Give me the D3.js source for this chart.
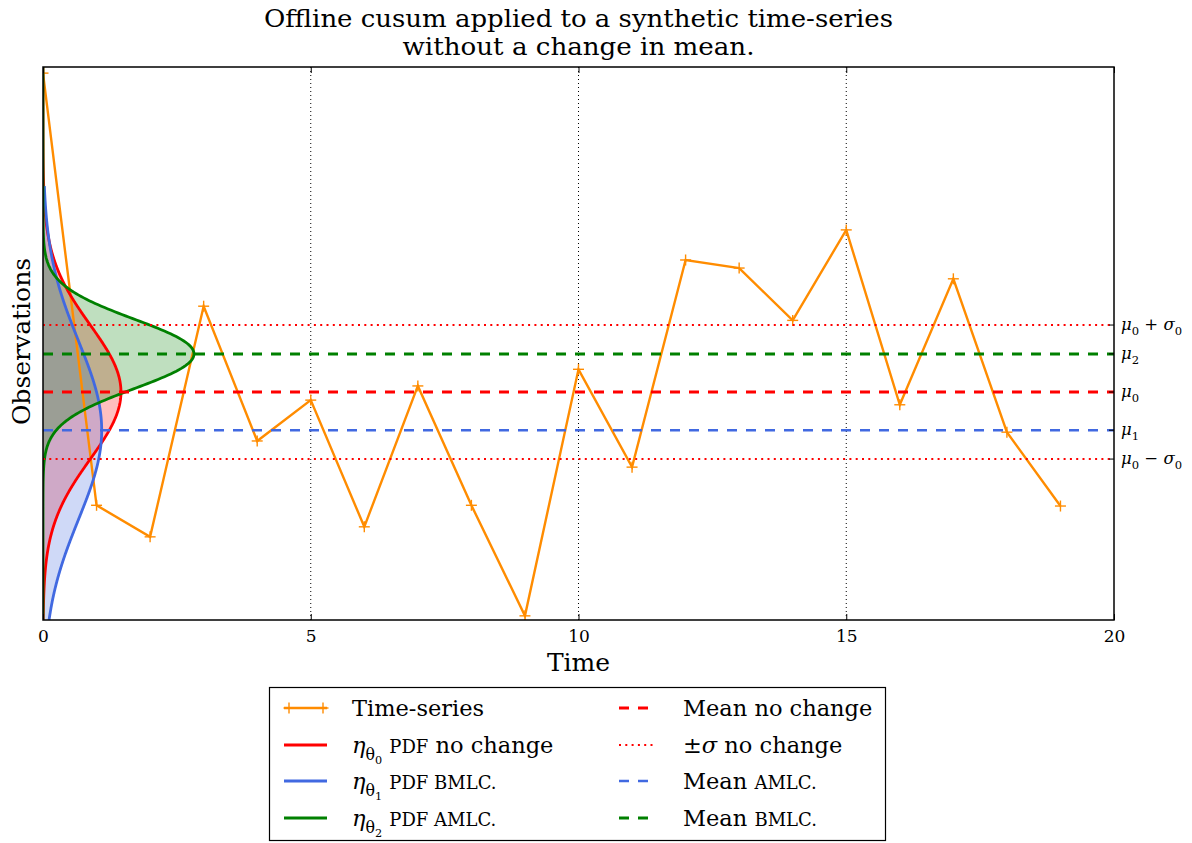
<!DOCTYPE html>
<html><head><meta charset="utf-8">
<script src="https://cdn.jsdelivr.net/npm/d3@7"></script>
<style>
body{margin:0;background:#fff}
svg{display:block}
text{font-family:"DejaVu Serif","Liberation Serif",serif;fill:#000}
.title{font-family:"DejaVu Serif Condensed","DejaVu Serif",serif;font-stretch:condensed}
</style>
</head><body>
<svg id="chart" width="1192" height="843"></svg>
<script>
// ---------------- data ----------------
const timeSteps = [0,1,2,3,4,5,6,7,8,9,10,11,12,13,14,15,16,17,18,19];
const observations = [1.304,-0.463,-0.592,0.351,-0.200,-0.033,-0.551,0.025,-0.463,-0.915,
                      0.093,-0.307,0.540,0.507,0.293,0.663,-0.052,0.463,-0.164,-0.466];
const mu0 = 0.0, sigma0 = 0.274;
const mu1 = -0.156, sigma1 = 0.364;
const mu2 = 0.156, sigma2 = 0.1415;
const pdfMeans  = [mu0, mu1, mu2];
const pdfSigmas = [sigma0, sigma1, sigma2];
const pdfTop    = [1.329, 0.842, 1.329];      // upper end of evaluated range
const pdfColors = ["#ff0000", "#4169e1", "#008000"];
const xTicks = [0, 5, 10, 15, 20];
const xGrid = [5, 10, 15];
const yDomain = [-0.932, 1.329];
const xDomain = [0, 20];

// ---------------- layout ----------------
const L = 43, R = 1114, T = 67, B = 620;
const svg = d3.select("#chart");
const x = d3.scaleLinear().domain(xDomain).range([L, R]);
const y = d3.scaleLinear().domain(yDomain).range([B, T]);

svg.append("defs").append("clipPath").attr("id","clip")
  .append("rect").attr("x",L).attr("y",T).attr("width",R-L).attr("height",B-T);
const plot = svg.append("g").attr("clip-path","url(#clip)");

// grid (vertical dotted)
plot.selectAll(".grid").data(xGrid).enter().append("line")
  .attr("x1",d=>x(d)).attr("x2",d=>x(d)).attr("y1",T).attr("y2",B)
  .attr("stroke","#000").attr("stroke-width",1).attr("stroke-dasharray","1,3");

const plus = (g, cx, cy, s) => {
  g.append("line").attr("x1",cx-s).attr("x2",cx+s).attr("y1",cy).attr("y2",cy);
  g.append("line").attr("x1",cx).attr("x2",cx).attr("y1",cy-s).attr("y2",cy+s);
};

// PDFs (fills)
const normal = (v, m, s) => Math.exp(-0.5*((v-m)/s)**2)/(s*Math.sqrt(2*Math.PI));
const pdfPts = pdfMeans.map((m,k)=>{
  const s = pdfSigmas[k], lo = yDomain[0], hi = pdfTop[k], n = 400;
  return d3.range(n+1).map(i=>{const v = lo+(hi-lo)*i/n; return [v, normal(v,m,s)];});
});
pdfPts.forEach((pts,k)=>{
  const area = d3.area().y(d=>y(d[0])).x0(x(0)).x1(d=>x(d[1]));
  plot.append("path").datum(pts).attr("d",area)
    .attr("fill",pdfColors[k]).attr("fill-opacity",0.25).attr("stroke","none");
});

// time-series
const tsLine = d3.line().x((d,i)=>x(timeSteps[i])).y(d=>y(d));
plot.append("path").datum(observations).attr("d",tsLine)
  .attr("fill","none").attr("stroke","#ff8c00").attr("stroke-width",2.4);
const mk = plot.append("g").attr("stroke","#ff8c00").attr("stroke-width",1.4);
observations.forEach((v,i)=>plus(mk, x(timeSteps[i]), y(v), 5.5));

// PDF lines
pdfPts.forEach((pts,k)=>{
  plot.append("path").datum(pts).attr("d",d3.line().y(d=>y(d[0])).x(d=>x(d[1])))
    .attr("fill","none").attr("stroke",pdfColors[k]).attr("stroke-width",2.8);
});

// reference lines
const hl = (v, color, w, dash) => plot.append("line")
  .attr("x1",L).attr("x2",R).attr("y1",y(v)).attr("y2",y(v))
  .attr("stroke",color).attr("stroke-width",w).attr("stroke-dasharray",dash);
hl(mu0+sigma0, "#ff0000", 2, "2,4.3");
hl(mu0-sigma0, "#ff0000", 2, "2,4.3");
hl(mu1, "#4169e1", 2.4, "10,9");
hl(mu0, "#ff0000", 3, "10,9");
hl(mu2, "#008000", 3, "10,9");

// frame
svg.append("rect").attr("x",L).attr("y",T).attr("width",R-L).attr("height",B-T)
  .attr("fill","none").attr("stroke","#000").attr("stroke-width",1.5);

// x axis ticks + labels
const xAxis = d3.axisBottom(x).tickValues(xTicks).tickSize(-6).tickPadding(10).tickFormat(d3.format("d"));
const gx = svg.append("g").attr("transform",`translate(0,${B})`).call(xAxis);
gx.select(".domain").remove();
gx.selectAll("line").attr("stroke","#000").attr("stroke-width",1);
gx.selectAll("text").attr("font-family","DejaVu Serif").attr("font-size",17).attr("fill","#000");
const xTop = d3.axisTop(x).tickValues(xTicks).tickSize(-6).tickFormat("");
const gxt = svg.append("g").attr("transform",`translate(0,${T})`).call(xTop);
gxt.select(".domain").remove();
gxt.selectAll("line").attr("stroke","#000");

// right-hand labels
const refLevels = [mu0+sigma0, mu2, mu0, mu1, mu0-sigma0];
const refLabels = [
  [["μ","i"],["0","s"],[" + ","n"],["σ","i"],["0","s"]],
  [["μ","i"],["2","s"]],
  [["μ","i"],["0","s"]],
  [["μ","i"],["1","s"]],
  [["μ","i"],["0","s"],[" − ","n"],["σ","i"],["0","s"]]
];
function rich(t, parts, size){
  let shift = 0;
  parts.forEach(([s, kind])=>{
    const ts = t.append("tspan").text(s);
    if(kind==="i"){ ts.attr("font-style","italic").attr("font-size",size).attr("dy",-shift); shift=0; }
    else if(kind==="n"){ ts.attr("font-size",size).attr("dy",-shift); shift=0; }
    else if(kind==="s"){ const d = size*0.3 - shift; ts.attr("font-size",size*0.7).attr("dy",d); shift = size*0.3; }
    else if(kind==="ss"){ const d = size*0.5 - shift; ts.attr("font-size",size*0.5).attr("dy",d); shift = size*0.5; }
    else if(kind==="sc"){ ts.attr("font-size",size*0.8).attr("dy",-shift); shift=0; }
  });
}
refLevels.forEach((v,i)=>{
  svg.append("line").attr("x1",R-5).attr("x2",R).attr("y1",y(v)).attr("y2",y(v))
    .attr("stroke","#000").attr("stroke-width",1);
  const t = svg.append("text").attr("x",R+7).attr("y",y(v)+5).style("white-space","pre");
  rich(t, refLabels[i], 16.5);
});

// axis titles
svg.append("text").attr("x",(L+R)/2).attr("y",671).attr("text-anchor","middle")
  .attr("font-size",25).text("Time");
svg.append("text").attr("transform",`translate(30,${(T+B)/2-2}) rotate(-90)`)
  .attr("text-anchor","middle").attr("font-size",25).text("Observations");

// title
const titleLines = ["Offline cusum applied to a synthetic time-series", "without a change in mean."];
const titleWidths = [629, 352];
titleLines.forEach((s,i)=>{
  svg.append("text").attr("class","title").attr("x",(L+R)/2).attr("y",27+i*28).attr("text-anchor","middle")
    .attr("font-size",24).attr("textLength",titleWidths[i]).attr("lengthAdjust","spacingAndGlyphs").text(s);
});

// legend
const legendLabels = [
  [["Time-series","n"]],
  [["η","i"],["θ","s"],["0","ss"],[" ","n"],["PDF","sc"],[" no change","n"]],
  [["η","i"],["θ","s"],["1","ss"],[" ","n"],["PDF BMLC.","sc"]],
  [["η","i"],["θ","s"],["2","ss"],[" ","n"],["PDF AMLC.","sc"]],
  [["Mean no change","n"]],
  [["±","n"],["σ","i"],[" no change","n"]],
  [["Mean ","n"],["AMLC.","sc"]],
  [["Mean ","n"],["BMLC.","sc"]]
];
const legendStyles = [
  {c:"#ff8c00", w:2.4, dash:null, marker:true},
  {c:"#ff0000", w:3, dash:null},
  {c:"#4169e1", w:3, dash:null},
  {c:"#008000", w:3, dash:null},
  {c:"#ff0000", w:3, dash:"10,9"},
  {c:"#ff0000", w:2, dash:"2,4.3"},
  {c:"#4169e1", w:2.4, dash:"10,9"},
  {c:"#008000", w:3, dash:"10,9"}
];
const lg = svg.append("g");
lg.append("rect").attr("x",269.5).attr("y",687.5).attr("width",616).attr("height",153)
  .attr("fill","#fff").attr("stroke","#000").attr("stroke-width",1.2);
const rowY = [708, 745, 781, 818];
legendLabels.forEach((lab,i)=>{
  const col = Math.floor(i/4), row = i%4;
  const st = legendStyles[i];
  const yy = rowY[row];
  const x0 = col===0 ? 284 : 619, x1 = col===0 ? 327 : 653;
  const tx = col===0 ? 352 : 683;
  const ln = lg.append("line").attr("x1",x0).attr("x2",x1).attr("y1",yy).attr("y2",yy)
    .attr("stroke",st.c).attr("stroke-width",st.w);
  if(st.dash) ln.attr("stroke-dasharray",st.dash);
  if(st.marker){
    const mg = lg.append("g").attr("stroke",st.c).attr("stroke-width",1.4);
    plus(mg, 289, yy, 5.5); plus(mg, 323, yy, 5.5);
  }
  const t = lg.append("text").attr("x",tx).attr("y",yy+8).style("white-space","pre");
  rich(t, lab, 22.5);
});
</script>
</body></html>
